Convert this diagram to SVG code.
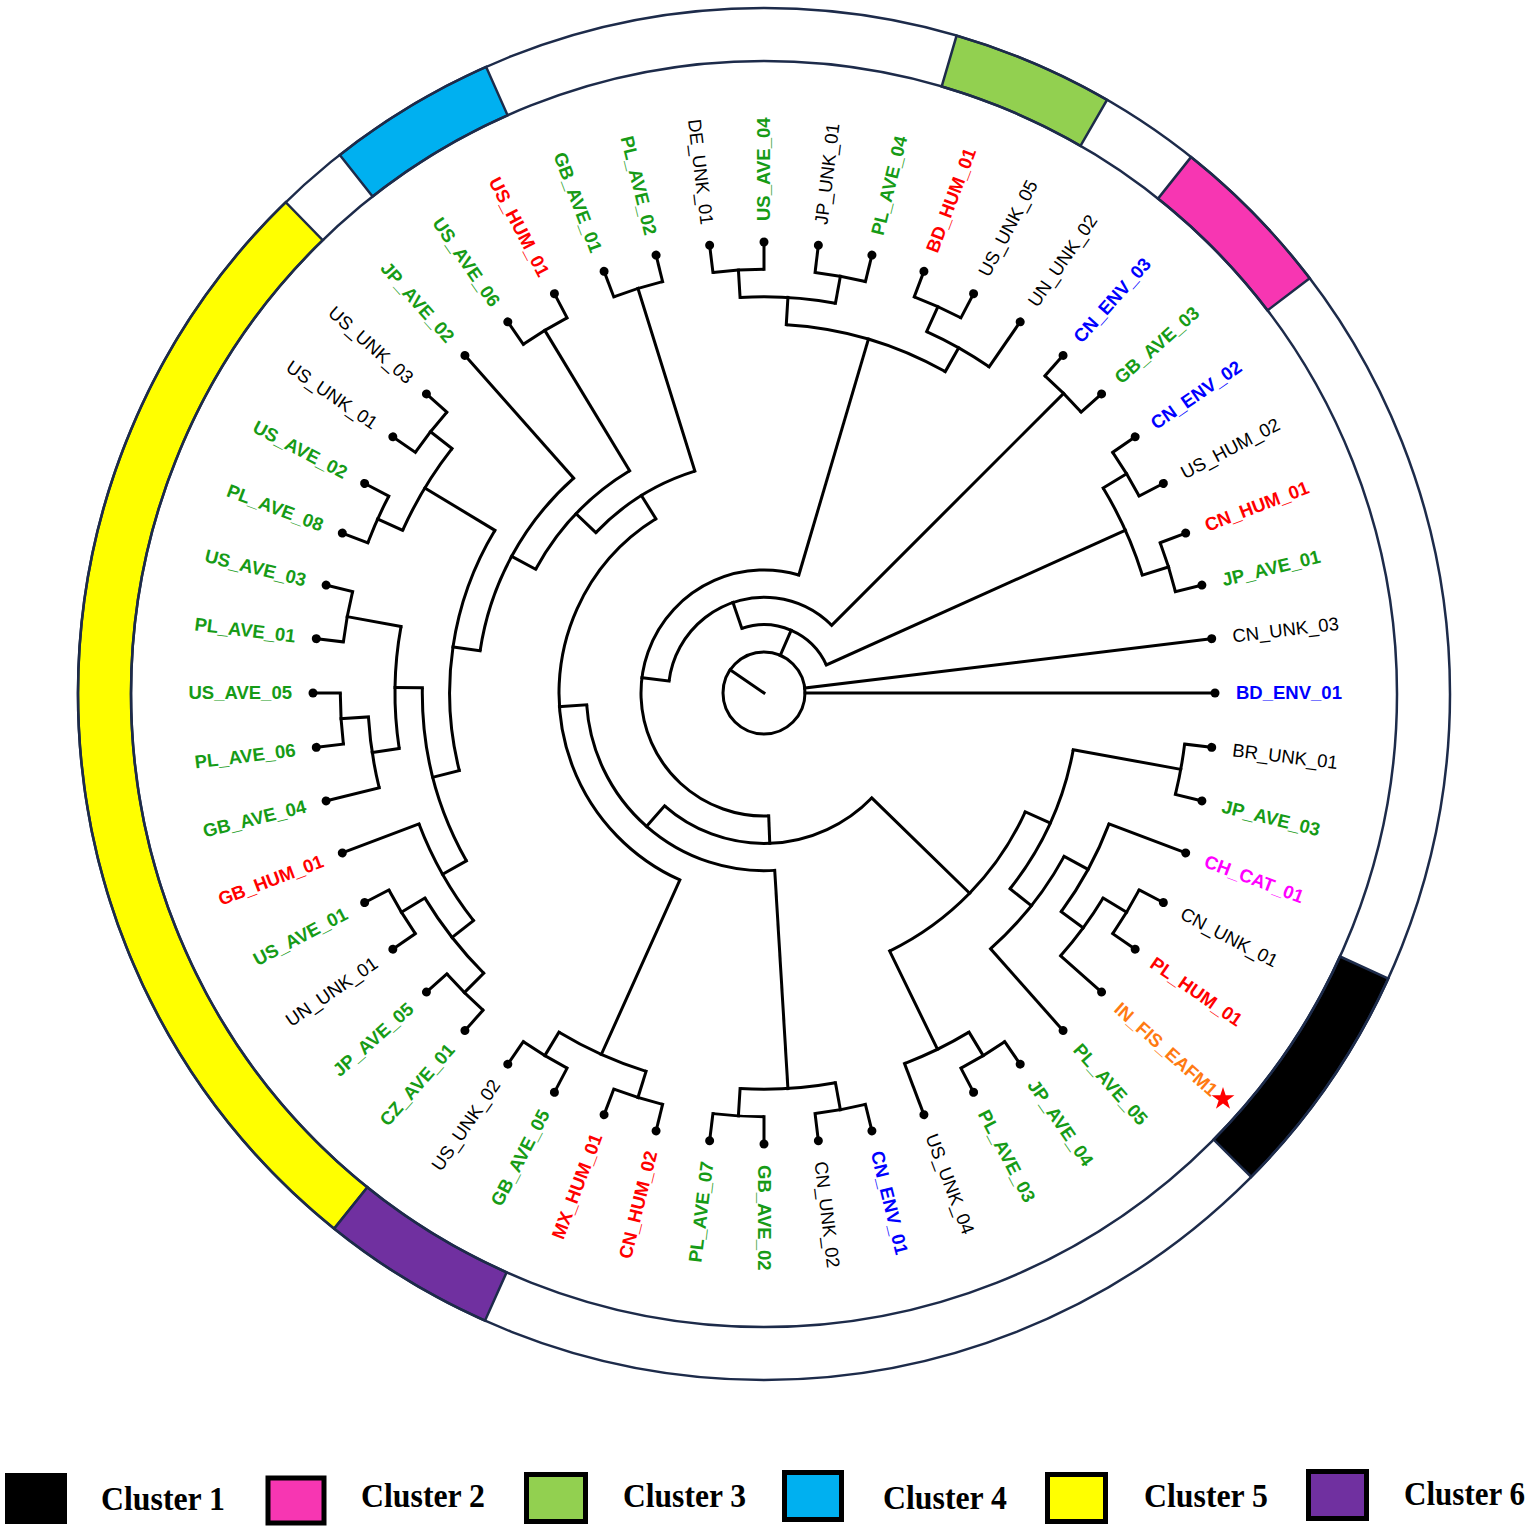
<svg xmlns="http://www.w3.org/2000/svg" width="1535" height="1532" viewBox="0 0 1535 1532">
<style>
.br{stroke:#000;stroke-width:3;stroke-linecap:square;fill:none}
.arc{stroke:#000;stroke-width:3;fill:none}
.dot{fill:#000}
.t{font-family:"Liberation Sans",Arial,sans-serif;font-size:18.5px}
.b{font-weight:bold}
.L{text-anchor:end}
.k{fill:#000}.g{fill:#169b16}.r{fill:#ff0000}.u{fill:#0000ff}.m{fill:#ff00ff}.o{fill:#ff7a12}
.ring{fill:none;stroke:#1d2b4a;stroke-width:2.5}
.seg{stroke:#1d2b4a;stroke-width:2.5}
.lg{stroke:#000;stroke-width:5}
.lt{font-family:"Liberation Serif","Times New Roman",serif;font-weight:bold;font-size:34px;fill:#000}
</style>
<rect width="1535" height="1532" fill="#fff"/>
<g id="cluster-ring">
<path id="seg-cluster5" class="seg" fill="#ffff00" d="M 334.2 1228.6 A 686 686 0 0 1 285.7 202.2 L 322.7 240.2 A 633 633 0 0 0 367.4 1187.3 Z"/>
<path id="seg-cluster6" class="seg" fill="#7030a0" d="M 485 1320.7 A 686 686 0 0 1 334.2 1228.6 L 367.4 1187.3 A 633 633 0 0 0 506.6 1272.3 Z"/>
<path id="seg-cluster4" class="seg" fill="#00b0f0" d="M 339.8 154.9 A 686 686 0 0 1 486.1 66.8 L 507.6 115.3 A 633 633 0 0 0 372.6 196.5 Z"/>
<path id="seg-cluster3" class="seg" fill="#92d050" d="M 956.6 35.6 A 686 686 0 0 1 1107 99.9 L 1080.5 145.8 A 633 633 0 0 0 941.7 86.5 Z"/>
<path id="seg-cluster2" class="seg" fill="#f736b2" d="M 1191 157.1 A 686 686 0 0 1 1309.7 278.3 L 1267.5 310.4 A 633 633 0 0 0 1158 198.6 Z"/>
<path id="seg-cluster1" class="seg" fill="#000000" d="M 1388.3 978.5 A 686 686 0 0 1 1251.2 1176.9 L 1213.6 1139.6 A 633 633 0 0 0 1340 956.5 Z"/>
<circle class="ring" cx="764" cy="694" r="686"/>
<circle class="ring" cx="764" cy="694" r="633"/>
</g>
<g id="connectors" transform="translate(764,693)">
<circle class="arc" r="41"/>
<line class="br" x1="0" x2="41" transform="rotate(214.5)"/>
<circle class="arc" r="68.4" pathLength="360" stroke-dasharray="84.707 400" transform="rotate(251.062)"/>
<circle class="arc" r="396.3" pathLength="360" stroke-dasharray="13.846 400" transform="rotate(328.846)"/>
<circle class="arc" r="423.7" pathLength="360" stroke-dasharray="6.923 400" transform="rotate(325.385)"/>
<circle class="arc" r="423.7" pathLength="360" stroke-dasharray="6.923 400" transform="rotate(339.231)"/>
<circle class="arc" r="95.7" pathLength="360" stroke-dasharray="127.876 400" transform="rotate(187.124)"/>
<circle class="arc" r="423.7" pathLength="360" stroke-dasharray="6.923 400" transform="rotate(311.538)"/>
<circle class="arc" r="123" pathLength="360" stroke-dasharray="198.636 400" transform="rotate(87.806)"/>
<circle class="arc" r="369" pathLength="360" stroke-dasharray="25.961 400" transform="rotate(273.462)"/>
<circle class="arc" r="396.3" pathLength="360" stroke-dasharray="13.847 400" transform="rotate(266.538)"/>
<circle class="arc" r="423.7" pathLength="360" stroke-dasharray="6.923 400" transform="rotate(263.077)"/>
<circle class="arc" r="423.7" pathLength="360" stroke-dasharray="6.923 400" transform="rotate(276.923)"/>
<circle class="arc" r="396.3" pathLength="360" stroke-dasharray="10.384 400" transform="rotate(294.231)"/>
<circle class="arc" r="423.7" pathLength="360" stroke-dasharray="6.923 400" transform="rotate(290.769)"/>
<circle class="arc" r="150.4" pathLength="360" stroke-dasharray="87.126 400" transform="rotate(44.243)"/>
<circle class="arc" r="287" pathLength="360" stroke-dasharray="39.591 400" transform="rotate(24.447)"/>
<circle class="arc" r="314.4" pathLength="360" stroke-dasharray="28.125 400" transform="rotate(10.385)"/>
<circle class="arc" r="423.7" pathLength="360" stroke-dasharray="6.923 400" transform="rotate(6.923)"/>
<circle class="arc" r="341.7" pathLength="360" stroke-dasharray="19.904 400" transform="rotate(28.558)"/>
<circle class="arc" r="369" pathLength="360" stroke-dasharray="15.577 400" transform="rotate(20.769)"/>
<circle class="arc" r="396.3" pathLength="360" stroke-dasharray="10.384 400" transform="rotate(31.154)"/>
<circle class="arc" r="423.7" pathLength="360" stroke-dasharray="6.923 400" transform="rotate(27.692)"/>
<circle class="arc" r="396.3" pathLength="360" stroke-dasharray="10.385 400" transform="rotate(58.846)"/>
<circle class="arc" r="423.7" pathLength="360" stroke-dasharray="6.923 400" transform="rotate(55.385)"/>
<circle class="arc" r="177.7" pathLength="360" stroke-dasharray="89.663 400" transform="rotate(86.538)"/>
<circle class="arc" r="396.3" pathLength="360" stroke-dasharray="13.847 400" transform="rotate(79.615)"/>
<circle class="arc" r="423.7" pathLength="360" stroke-dasharray="6.923 400" transform="rotate(76.154)"/>
<circle class="arc" r="423.7" pathLength="360" stroke-dasharray="6.923 400" transform="rotate(90)"/>
<circle class="arc" r="205" pathLength="360" stroke-dasharray="123.939 400" transform="rotate(114.231)"/>
<circle class="arc" r="396.3" pathLength="360" stroke-dasharray="13.846 400" transform="rotate(107.308)"/>
<circle class="arc" r="423.7" pathLength="360" stroke-dasharray="6.923 400" transform="rotate(103.846)"/>
<circle class="arc" r="423.7" pathLength="360" stroke-dasharray="6.923 400" transform="rotate(117.692)"/>
<circle class="arc" r="232.4" pathLength="360" stroke-dasharray="29.044 400" transform="rotate(223.648)"/>
<circle class="arc" r="423.7" pathLength="360" stroke-dasharray="6.923 400" transform="rotate(249.231)"/>
<circle class="arc" r="259.7" pathLength="360" stroke-dasharray="30.396 400" transform="rotate(208.45)"/>
<circle class="arc" r="423.7" pathLength="360" stroke-dasharray="6.923 400" transform="rotate(235.385)"/>
<circle class="arc" r="287" pathLength="360" stroke-dasharray="40.024 400" transform="rotate(188.438)"/>
<circle class="arc" r="314.4" pathLength="360" stroke-dasharray="45.433 400" transform="rotate(165.721)"/>
<circle class="arc" r="396.3" pathLength="360" stroke-dasharray="13.846 400" transform="rotate(204.231)"/>
<circle class="arc" r="423.7" pathLength="360" stroke-dasharray="6.923 400" transform="rotate(200.769)"/>
<circle class="arc" r="423.7" pathLength="360" stroke-dasharray="6.923 400" transform="rotate(214.615)"/>
<circle class="arc" r="341.7" pathLength="360" stroke-dasharray="30.288 400" transform="rotate(150.577)"/>
<circle class="arc" r="369" pathLength="360" stroke-dasharray="17.308 400" transform="rotate(141.923)"/>
<circle class="arc" r="396.3" pathLength="360" stroke-dasharray="13.846 400" transform="rotate(135)"/>
<circle class="arc" r="423.7" pathLength="360" stroke-dasharray="6.923 400" transform="rotate(131.538)"/>
<circle class="arc" r="423.7" pathLength="360" stroke-dasharray="6.923 400" transform="rotate(145.385)"/>
<circle class="arc" r="369" pathLength="360" stroke-dasharray="19.039 400" transform="rotate(171.346)"/>
<circle class="arc" r="396.3" pathLength="360" stroke-dasharray="10.384 400" transform="rotate(166.154)"/>
<circle class="arc" r="423.7" pathLength="360" stroke-dasharray="6.923 400" transform="rotate(173.077)"/>
<circle class="arc" r="423.7" pathLength="360" stroke-dasharray="6.923 400" transform="rotate(186.923)"/>
<line class="br" x1="41" x2="68.4" transform="rotate(293.416)"/>
<line class="br" x1="41" x2="451" transform="rotate(353.077)"/>
<line class="br" x1="41" x2="451"/>
<line class="br" x1="68.4" x2="95.7" transform="rotate(251.062)"/>
<line class="br" x1="68.4" x2="396.3" transform="rotate(335.769)"/>
<line class="br" x1="396.3" x2="423.7" transform="rotate(328.846)"/>
<line class="br" x1="396.3" x2="423.7" transform="rotate(342.692)"/>
<line class="br" x1="95.7" x2="123" transform="rotate(187.124)"/>
<line class="br" x1="95.7" x2="423.7" transform="rotate(315)"/>
<line class="br" x1="123" x2="150.4" transform="rotate(87.806)"/>
<line class="br" x1="123" x2="369" transform="rotate(286.442)"/>
<line class="br" x1="369" x2="396.3" transform="rotate(273.462)"/>
<line class="br" x1="369" x2="396.3" transform="rotate(299.423)"/>
<line class="br" x1="396.3" x2="423.7" transform="rotate(266.538)"/>
<line class="br" x1="396.3" x2="423.7" transform="rotate(280.385)"/>
<line class="br" x1="396.3" x2="423.7" transform="rotate(294.231)"/>
<line class="br" x1="396.3" x2="451" transform="rotate(304.615)"/>
<line class="br" x1="150.4" x2="287" transform="rotate(44.243)"/>
<line class="br" x1="150.4" x2="177.7" transform="rotate(131.369)"/>
<line class="br" x1="287" x2="314.4" transform="rotate(24.447)"/>
<line class="br" x1="287" x2="396.3" transform="rotate(64.038)"/>
<line class="br" x1="314.4" x2="423.7" transform="rotate(10.385)"/>
<line class="br" x1="314.4" x2="341.7" transform="rotate(38.51)"/>
<line class="br" x1="341.7" x2="369" transform="rotate(28.558)"/>
<line class="br" x1="341.7" x2="451" transform="rotate(48.462)"/>
<line class="br" x1="369" x2="451" transform="rotate(20.769)"/>
<line class="br" x1="369" x2="396.3" transform="rotate(36.346)"/>
<line class="br" x1="396.3" x2="423.7" transform="rotate(31.154)"/>
<line class="br" x1="396.3" x2="451" transform="rotate(41.538)"/>
<line class="br" x1="396.3" x2="423.7" transform="rotate(58.846)"/>
<line class="br" x1="396.3" x2="451" transform="rotate(69.231)"/>
<line class="br" x1="177.7" x2="396.3" transform="rotate(86.538)"/>
<line class="br" x1="177.7" x2="205" transform="rotate(176.201)"/>
<line class="br" x1="396.3" x2="423.7" transform="rotate(79.615)"/>
<line class="br" x1="396.3" x2="423.7" transform="rotate(93.462)"/>
<line class="br" x1="205" x2="396.3" transform="rotate(114.231)"/>
<line class="br" x1="205" x2="232.4" transform="rotate(238.17)"/>
<line class="br" x1="396.3" x2="423.7" transform="rotate(107.308)"/>
<line class="br" x1="396.3" x2="423.7" transform="rotate(121.154)"/>
<line class="br" x1="232.4" x2="259.7" transform="rotate(223.648)"/>
<line class="br" x1="232.4" x2="423.7" transform="rotate(252.692)"/>
<line class="br" x1="259.7" x2="287" transform="rotate(208.45)"/>
<line class="br" x1="259.7" x2="423.7" transform="rotate(238.846)"/>
<line class="br" x1="287" x2="314.4" transform="rotate(188.438)"/>
<line class="br" x1="287" x2="451" transform="rotate(228.462)"/>
<line class="br" x1="314.4" x2="341.7" transform="rotate(165.721)"/>
<line class="br" x1="314.4" x2="396.3" transform="rotate(211.154)"/>
<line class="br" x1="396.3" x2="423.7" transform="rotate(204.231)"/>
<line class="br" x1="396.3" x2="423.7" transform="rotate(218.077)"/>
<line class="br" x1="341.7" x2="369" transform="rotate(150.577)"/>
<line class="br" x1="341.7" x2="369" transform="rotate(180.865)"/>
<line class="br" x1="369" x2="396.3" transform="rotate(141.923)"/>
<line class="br" x1="369" x2="451" transform="rotate(159.231)"/>
<line class="br" x1="396.3" x2="423.7" transform="rotate(135)"/>
<line class="br" x1="396.3" x2="423.7" transform="rotate(148.846)"/>
<line class="br" x1="369" x2="396.3" transform="rotate(171.346)"/>
<line class="br" x1="369" x2="423.7" transform="rotate(190.385)"/>
<line class="br" x1="396.3" x2="451" transform="rotate(166.154)"/>
<line class="br" x1="396.3" x2="423.7" transform="rotate(176.538)"/>
<line class="br" x1="423.7" x2="451" transform="rotate(6.923)"/>
<line class="br" x1="423.7" x2="451" transform="rotate(13.846)"/>
<line class="br" x1="423.7" x2="451" transform="rotate(27.692)"/>
<line class="br" x1="423.7" x2="451" transform="rotate(34.615)"/>
<line class="br" x1="423.7" x2="451" transform="rotate(55.385)"/>
<line class="br" x1="423.7" x2="451" transform="rotate(62.308)"/>
<line class="br" x1="423.7" x2="451" transform="rotate(76.154)"/>
<line class="br" x1="423.7" x2="451" transform="rotate(83.077)"/>
<line class="br" x1="423.7" x2="451" transform="rotate(90)"/>
<line class="br" x1="423.7" x2="451" transform="rotate(96.923)"/>
<line class="br" x1="423.7" x2="451" transform="rotate(103.846)"/>
<line class="br" x1="423.7" x2="451" transform="rotate(110.769)"/>
<line class="br" x1="423.7" x2="451" transform="rotate(117.692)"/>
<line class="br" x1="423.7" x2="451" transform="rotate(124.615)"/>
<line class="br" x1="423.7" x2="451" transform="rotate(131.538)"/>
<line class="br" x1="423.7" x2="451" transform="rotate(138.462)"/>
<line class="br" x1="423.7" x2="451" transform="rotate(145.385)"/>
<line class="br" x1="423.7" x2="451" transform="rotate(152.308)"/>
<line class="br" x1="423.7" x2="451" transform="rotate(173.077)"/>
<line class="br" x1="423.7" x2="451" transform="rotate(180)"/>
<line class="br" x1="423.7" x2="451" transform="rotate(186.923)"/>
<line class="br" x1="423.7" x2="451" transform="rotate(193.846)"/>
<line class="br" x1="423.7" x2="451" transform="rotate(200.769)"/>
<line class="br" x1="423.7" x2="451" transform="rotate(207.692)"/>
<line class="br" x1="423.7" x2="451" transform="rotate(214.615)"/>
<line class="br" x1="423.7" x2="451" transform="rotate(221.538)"/>
<line class="br" x1="423.7" x2="451" transform="rotate(235.385)"/>
<line class="br" x1="423.7" x2="451" transform="rotate(242.308)"/>
<line class="br" x1="423.7" x2="451" transform="rotate(249.231)"/>
<line class="br" x1="423.7" x2="451" transform="rotate(256.154)"/>
<line class="br" x1="423.7" x2="451" transform="rotate(263.077)"/>
<line class="br" x1="423.7" x2="451" transform="rotate(270)"/>
<line class="br" x1="423.7" x2="451" transform="rotate(276.923)"/>
<line class="br" x1="423.7" x2="451" transform="rotate(283.846)"/>
<line class="br" x1="423.7" x2="451" transform="rotate(290.769)"/>
<line class="br" x1="423.7" x2="451" transform="rotate(297.692)"/>
<line class="br" x1="423.7" x2="451" transform="rotate(311.538)"/>
<line class="br" x1="423.7" x2="451" transform="rotate(318.462)"/>
<line class="br" x1="423.7" x2="451" transform="rotate(325.385)"/>
<line class="br" x1="423.7" x2="451" transform="rotate(332.308)"/>
<line class="br" x1="423.7" x2="451" transform="rotate(339.231)"/>
<line class="br" x1="423.7" x2="451" transform="rotate(346.154)"/>
</g>
<g id="leaves" transform="translate(764,693)">
<g id="BD_ENV_01"><circle class="dot" cx="451" r="4.5"/><text class="t b u" x="472" dy=".35em">BD_ENV_01</text></g>
<g id="BR_UNK_01" transform="rotate(6.923)"><circle class="dot" cx="451" r="4.5"/><text class="t k" x="472" dy=".35em">BR_UNK_01</text></g>
<g id="JP_AVE_03" transform="rotate(13.846)"><circle class="dot" cx="451" r="4.5"/><text class="t b g" x="472" dy=".35em">JP_AVE_03</text></g>
<g id="CH_CAT_01" transform="rotate(20.769)"><circle class="dot" cx="451" r="4.5"/><text class="t b m" x="472" dy=".35em">CH_CAT_01</text></g>
<g id="CN_UNK_01" transform="rotate(27.692)"><circle class="dot" cx="451" r="4.5"/><text class="t k" x="472" dy=".35em">CN_UNK_01</text></g>
<g id="PL_HUM_01" transform="rotate(34.615)"><circle class="dot" cx="451" r="4.5"/><text class="t b r" x="472" dy=".35em">PL_HUM_01</text></g>
<g id="IN_FIS_EAFM1" transform="rotate(41.538)"><circle class="dot" cx="451" r="4.5"/><text class="t b o" x="472" dy=".35em">IN_FIS_EAFM1</text></g>
<g id="PL_AVE_05" transform="rotate(48.462)"><circle class="dot" cx="451" r="4.5"/><text class="t b g" x="472" dy=".35em">PL_AVE_05</text></g>
<g id="JP_AVE_04" transform="rotate(55.385)"><circle class="dot" cx="451" r="4.5"/><text class="t b g" x="472" dy=".35em">JP_AVE_04</text></g>
<g id="PL_AVE_03" transform="rotate(62.308)"><circle class="dot" cx="451" r="4.5"/><text class="t b g" x="472" dy=".35em">PL_AVE_03</text></g>
<g id="US_UNK_04" transform="rotate(69.231)"><circle class="dot" cx="451" r="4.5"/><text class="t k" x="472" dy=".35em">US_UNK_04</text></g>
<g id="CN_ENV_01" transform="rotate(76.154)"><circle class="dot" cx="451" r="4.5"/><text class="t b u" x="472" dy=".35em">CN_ENV_01</text></g>
<g id="CN_UNK_02" transform="rotate(83.077)"><circle class="dot" cx="451" r="4.5"/><text class="t k" x="472" dy=".35em">CN_UNK_02</text></g>
<g id="GB_AVE_02" transform="rotate(90)"><circle class="dot" cx="451" r="4.5"/><text class="t b g" x="472" dy=".35em">GB_AVE_02</text></g>
<g id="PL_AVE_07" transform="rotate(96.923)"><circle class="dot" cx="451" r="4.5"/><text class="t b g L" transform="translate(472,0) rotate(180)" dy=".35em">PL_AVE_07</text></g>
<g id="CN_HUM_02" transform="rotate(103.846)"><circle class="dot" cx="451" r="4.5"/><text class="t b r L" transform="translate(472,0) rotate(180)" dy=".35em">CN_HUM_02</text></g>
<g id="MX_HUM_01" transform="rotate(110.769)"><circle class="dot" cx="451" r="4.5"/><text class="t b r L" transform="translate(472,0) rotate(180)" dy=".35em">MX_HUM_01</text></g>
<g id="GB_AVE_05" transform="rotate(117.692)"><circle class="dot" cx="451" r="4.5"/><text class="t b g L" transform="translate(472,0) rotate(180)" dy=".35em">GB_AVE_05</text></g>
<g id="US_UNK_02" transform="rotate(124.615)"><circle class="dot" cx="451" r="4.5"/><text class="t k L" transform="translate(472,0) rotate(180)" dy=".35em">US_UNK_02</text></g>
<g id="CZ_AVE_01" transform="rotate(131.538)"><circle class="dot" cx="451" r="4.5"/><text class="t b g L" transform="translate(472,0) rotate(180)" dy=".35em">CZ_AVE_01</text></g>
<g id="JP_AVE_05" transform="rotate(138.462)"><circle class="dot" cx="451" r="4.5"/><text class="t b g L" transform="translate(472,0) rotate(180)" dy=".35em">JP_AVE_05</text></g>
<g id="UN_UNK_01" transform="rotate(145.385)"><circle class="dot" cx="451" r="4.5"/><text class="t k L" transform="translate(472,0) rotate(180)" dy=".35em">UN_UNK_01</text></g>
<g id="US_AVE_01" transform="rotate(152.308)"><circle class="dot" cx="451" r="4.5"/><text class="t b g L" transform="translate(472,0) rotate(180)" dy=".35em">US_AVE_01</text></g>
<g id="GB_HUM_01" transform="rotate(159.231)"><circle class="dot" cx="451" r="4.5"/><text class="t b r L" transform="translate(472,0) rotate(180)" dy=".35em">GB_HUM_01</text></g>
<g id="GB_AVE_04" transform="rotate(166.154)"><circle class="dot" cx="451" r="4.5"/><text class="t b g L" transform="translate(472,0) rotate(180)" dy=".35em">GB_AVE_04</text></g>
<g id="PL_AVE_06" transform="rotate(173.077)"><circle class="dot" cx="451" r="4.5"/><text class="t b g L" transform="translate(472,0) rotate(180)" dy=".35em">PL_AVE_06</text></g>
<g id="US_AVE_05" transform="rotate(180)"><circle class="dot" cx="451" r="4.5"/><text class="t b g L" transform="translate(472,0) rotate(180)" dy=".35em">US_AVE_05</text></g>
<g id="PL_AVE_01" transform="rotate(186.923)"><circle class="dot" cx="451" r="4.5"/><text class="t b g L" transform="translate(472,0) rotate(180)" dy=".35em">PL_AVE_01</text></g>
<g id="US_AVE_03" transform="rotate(193.846)"><circle class="dot" cx="451" r="4.5"/><text class="t b g L" transform="translate(472,0) rotate(180)" dy=".35em">US_AVE_03</text></g>
<g id="PL_AVE_08" transform="rotate(200.769)"><circle class="dot" cx="451" r="4.5"/><text class="t b g L" transform="translate(472,0) rotate(180)" dy=".35em">PL_AVE_08</text></g>
<g id="US_AVE_02" transform="rotate(207.692)"><circle class="dot" cx="451" r="4.5"/><text class="t b g L" transform="translate(472,0) rotate(180)" dy=".35em">US_AVE_02</text></g>
<g id="US_UNK_01" transform="rotate(214.615)"><circle class="dot" cx="451" r="4.5"/><text class="t k L" transform="translate(472,0) rotate(180)" dy=".35em">US_UNK_01</text></g>
<g id="US_UNK_03" transform="rotate(221.538)"><circle class="dot" cx="451" r="4.5"/><text class="t k L" transform="translate(472,0) rotate(180)" dy=".35em">US_UNK_03</text></g>
<g id="JP_AVE_02" transform="rotate(228.462)"><circle class="dot" cx="451" r="4.5"/><text class="t b g L" transform="translate(472,0) rotate(180)" dy=".35em">JP_AVE_02</text></g>
<g id="US_AVE_06" transform="rotate(235.385)"><circle class="dot" cx="451" r="4.5"/><text class="t b g L" transform="translate(472,0) rotate(180)" dy=".35em">US_AVE_06</text></g>
<g id="US_HUM_01" transform="rotate(242.308)"><circle class="dot" cx="451" r="4.5"/><text class="t b r L" transform="translate(472,0) rotate(180)" dy=".35em">US_HUM_01</text></g>
<g id="GB_AVE_01" transform="rotate(249.231)"><circle class="dot" cx="451" r="4.5"/><text class="t b g L" transform="translate(472,0) rotate(180)" dy=".35em">GB_AVE_01</text></g>
<g id="PL_AVE_02" transform="rotate(256.154)"><circle class="dot" cx="451" r="4.5"/><text class="t b g L" transform="translate(472,0) rotate(180)" dy=".35em">PL_AVE_02</text></g>
<g id="DE_UNK_01" transform="rotate(263.077)"><circle class="dot" cx="451" r="4.5"/><text class="t k L" transform="translate(472,0) rotate(180)" dy=".35em">DE_UNK_01</text></g>
<g id="US_AVE_04" transform="rotate(270)"><circle class="dot" cx="451" r="4.5"/><text class="t b g" x="472" dy=".35em">US_AVE_04</text></g>
<g id="JP_UNK_01" transform="rotate(276.923)"><circle class="dot" cx="451" r="4.5"/><text class="t k" x="472" dy=".35em">JP_UNK_01</text></g>
<g id="PL_AVE_04" transform="rotate(283.846)"><circle class="dot" cx="451" r="4.5"/><text class="t b g" x="472" dy=".35em">PL_AVE_04</text></g>
<g id="BD_HUM_01" transform="rotate(290.769)"><circle class="dot" cx="451" r="4.5"/><text class="t b r" x="472" dy=".35em">BD_HUM_01</text></g>
<g id="US_UNK_05" transform="rotate(297.692)"><circle class="dot" cx="451" r="4.5"/><text class="t k" x="472" dy=".35em">US_UNK_05</text></g>
<g id="UN_UNK_02" transform="rotate(304.615)"><circle class="dot" cx="451" r="4.5"/><text class="t k" x="472" dy=".35em">UN_UNK_02</text></g>
<g id="CN_ENV_03" transform="rotate(311.538)"><circle class="dot" cx="451" r="4.5"/><text class="t b u" x="472" dy=".35em">CN_ENV_03</text></g>
<g id="GB_AVE_03" transform="rotate(318.462)"><circle class="dot" cx="451" r="4.5"/><text class="t b g" x="472" dy=".35em">GB_AVE_03</text></g>
<g id="CN_ENV_02" transform="rotate(325.385)"><circle class="dot" cx="451" r="4.5"/><text class="t b u" x="472" dy=".35em">CN_ENV_02</text></g>
<g id="US_HUM_02" transform="rotate(332.308)"><circle class="dot" cx="451" r="4.5"/><text class="t k" x="472" dy=".35em">US_HUM_02</text></g>
<g id="CN_HUM_01" transform="rotate(339.231)"><circle class="dot" cx="451" r="4.5"/><text class="t b r" x="472" dy=".35em">CN_HUM_01</text></g>
<g id="JP_AVE_01" transform="rotate(346.154)"><circle class="dot" cx="451" r="4.5"/><text class="t b g" x="472" dy=".35em">JP_AVE_01</text></g>
<g id="CN_UNK_03" transform="rotate(353.077)"><circle class="dot" cx="451" r="4.5"/><text class="t k" x="472" dy=".35em">CN_UNK_03</text></g>
</g>
<g id="star-marker" transform="translate(1223,1099)">
<polygon fill="#ff0000" points="0,-12 2.7,-3.72 11.41,-3.71 4.37,1.42 7.05,9.71 0,4.6 -7.05,9.71 -4.37,1.42 -11.41,-3.71 -2.7,-3.72"/>
</g>
<g id="legend">
<g id="legend-cluster1"><rect x="5" y="1473" width="62" height="51" fill="#000"/><text class="lt" x="101" y="1510" textLength="124" lengthAdjust="spacingAndGlyphs">Cluster 1</text></g>
<g id="legend-cluster2"><rect class="lg" x="268" y="1478" width="56" height="45" fill="#f736b2"/><text class="lt" x="361" y="1507" textLength="124" lengthAdjust="spacingAndGlyphs">Cluster 2</text></g>
<g id="legend-cluster3"><rect class="lg" x="526.5" y="1474.5" width="59" height="47" fill="#92d050"/><text class="lt" x="623" y="1507" textLength="123" lengthAdjust="spacingAndGlyphs">Cluster 3</text></g>
<g id="legend-cluster4"><rect class="lg" x="784.5" y="1472.5" width="57" height="47" fill="#00b0f0"/><text class="lt" x="883" y="1509" textLength="124" lengthAdjust="spacingAndGlyphs">Cluster 4</text></g>
<g id="legend-cluster5"><rect class="lg" x="1047.5" y="1474.5" width="58" height="47" fill="#ffff00"/><text class="lt" x="1144" y="1507" textLength="124" lengthAdjust="spacingAndGlyphs">Cluster 5</text></g>
<g id="legend-cluster6"><rect class="lg" x="1308.5" y="1471.5" width="58" height="47" fill="#7030a0"/><text class="lt" x="1404" y="1505" textLength="121" lengthAdjust="spacingAndGlyphs">Cluster 6</text></g>
</g>
</svg>
